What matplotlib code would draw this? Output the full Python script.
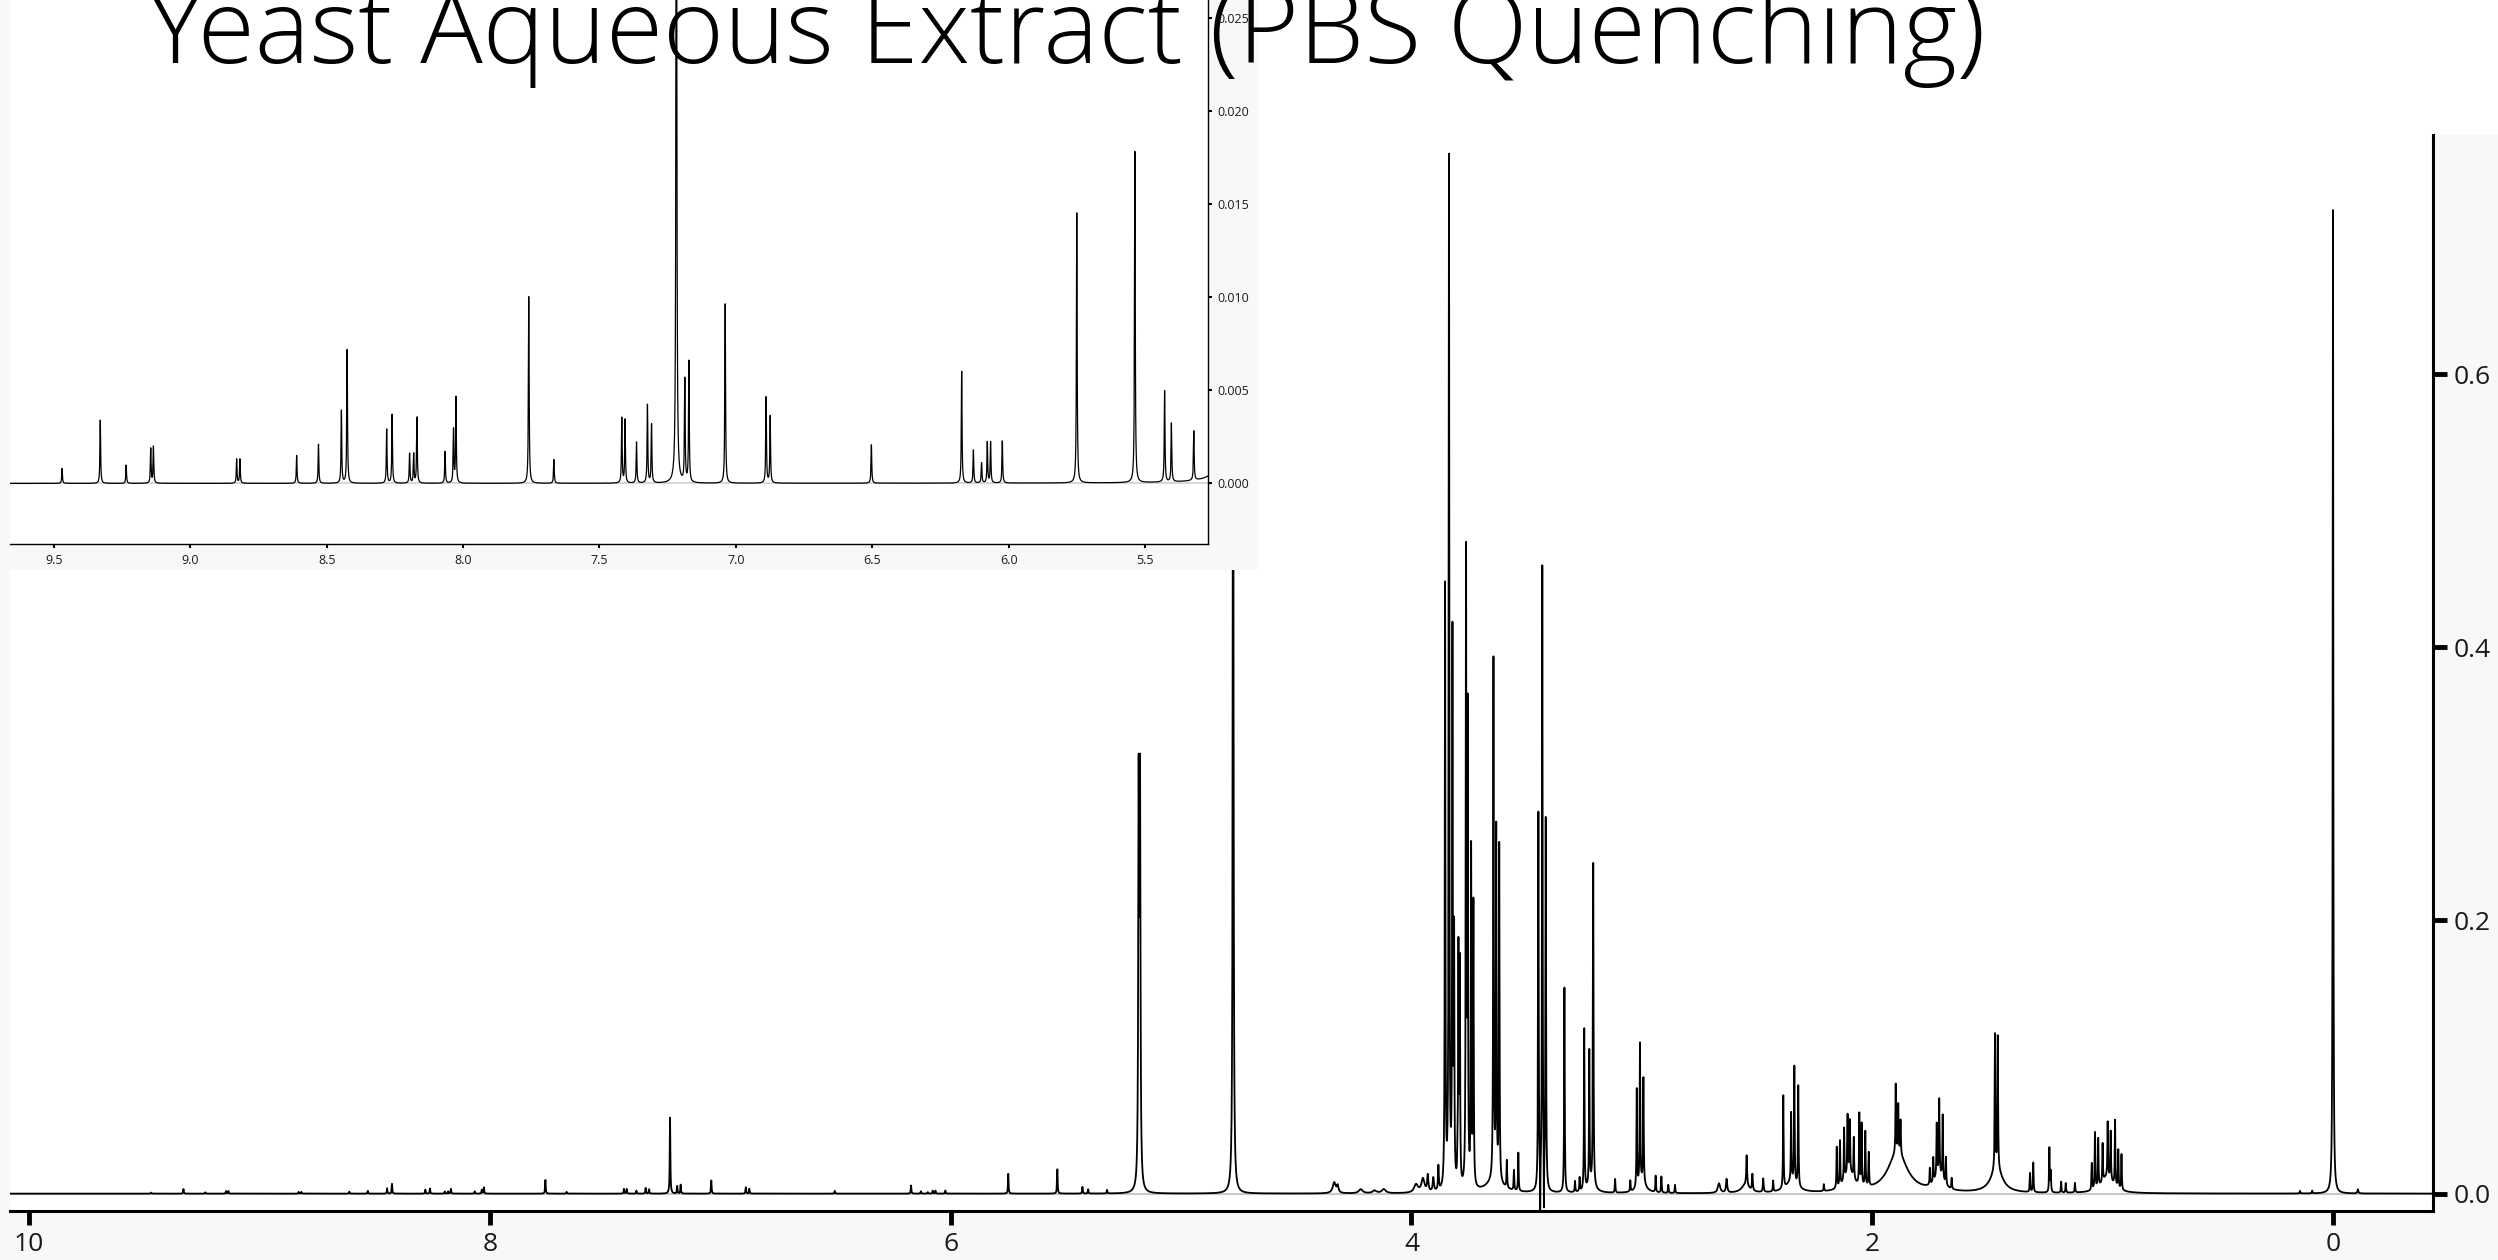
import numpy as np
import matplotlib.pyplot as plt
from matplotlib.patches import Rectangle

plt.rcParams['font.family'] = ['Open Sans', 'DejaVu Sans']

title = "Yeast Aqueous Extract (PBS Quenching)"

# peaks: shift (ppm), height, half width (ppm)
peak_ppm = [
    9.470, 9.330, 9.235, 9.145, 9.135, 8.830, 8.818, 8.610, 8.530, 8.446,
    8.425, 8.280, 8.260, 8.196, 8.181, 8.169, 8.066, 8.035, 8.026, 7.759,
    7.667, 7.418, 7.406, 7.364, 7.324, 7.309, 7.218, 7.187, 7.172, 7.039,
    6.889, 6.874, 6.503, 6.172, 6.129, 6.099, 6.078, 6.066, 6.023, 5.750,
    5.537, 5.428, 5.403, 5.321,
    5.184, 5.178, 4.774,
    4.335, 4.320, 4.220, 4.160, 4.120, 3.980, 3.950, 3.929, 3.905, 3.883,
    3.854, 3.837, 3.822, 3.815, 3.796, 3.790, 3.763, 3.756, 3.741, 3.731,
    3.644, 3.632, 3.619, 3.586, 3.555, 3.536, 3.449, 3.441, 3.432, 3.425,
    3.417, 3.336, 3.290, 3.270, 3.250, 3.228, 3.211, 3.116, 3.050, 3.022,
    3.008, 2.993, 2.940, 2.915, 2.885, 2.856,
    2.665, 2.632, 2.545, 2.520, 2.473, 2.430, 2.386, 2.352, 2.338, 2.321,
    2.210, 2.154, 2.140, 2.122, 2.107, 2.097, 2.080, 2.056, 2.046, 2.030,
    2.015, 1.898, 1.887, 1.877, 1.750, 1.735, 1.720, 1.709, 1.694, 1.680,
    1.655, 1.467, 1.455, 1.315, 1.301, 1.231, 1.225, 1.180, 1.160, 1.120,
    1.047, 1.033, 1.019, 1.000, 0.978, 0.965, 0.946, 0.932, 0.918,
    0.143, 0.090, 0.000, -0.108,
    # broad humps under the multiplets
    3.800, 3.640, 3.220, 3.000, 2.550, 2.350, 2.100, 1.890, 1.710, 1.460,
    0.980,
]
peak_height = [
    0.0008, 0.0034, 0.0010, 0.0019, 0.0020, 0.0013, 0.0013, 0.0015, 0.0021, 0.0039,
    0.0073, 0.0029, 0.0037, 0.0016, 0.0016, 0.0036, 0.0017, 0.0029, 0.0046, 0.0102,
    0.0013, 0.0035, 0.0034, 0.0022, 0.0042, 0.0032, 0.0556, 0.0056, 0.0065, 0.0098,
    0.0047, 0.0036, 0.0021, 0.0060, 0.0018, 0.0011, 0.0022, 0.0022, 0.0023, 0.0145,
    0.0181, 0.0049, 0.0032, 0.0027,
    0.288, 0.288, 0.700,
    0.008, 0.005, 0.003, 0.002, 0.003, 0.006, 0.010, 0.012, 0.010, 0.018,
    0.440, 0.765, 0.400, 0.180, 0.170, 0.160, 0.465, 0.340, 0.250, 0.210,
    0.380, 0.255, 0.250, 0.020, 0.015, 0.028, 0.280, -0.045, 0.455, -0.045,
    0.275, 0.150, 0.008, 0.010, 0.118, 0.098, 0.240, 0.010, 0.008, 0.072,
    0.102, 0.078, 0.012, 0.012, 0.006, 0.006,
    0.007, 0.010, 0.022, 0.012, 0.010, 0.008, 0.068, 0.050, 0.085, 0.075,
    0.005, 0.030, 0.033, 0.038, 0.043, 0.038, 0.030, 0.052, 0.045, 0.040,
    0.025, 0.050, 0.035, 0.025, 0.012, 0.018, 0.038, 0.055, 0.047, 0.020,
    0.008, 0.100, 0.098, 0.014, 0.022, 0.033, 0.015, 0.008, 0.007, 0.007,
    0.020, 0.042, 0.036, 0.028, 0.040, 0.036, 0.048, 0.028, 0.026,
    0.002, 0.002, 0.720, 0.003,
    0.018, 0.008, 0.006, 0.008, 0.006, 0.008, 0.014, 0.030, 0.012, 0.018,
    0.012,
]
peak_hwhm = [0.0015] * 44 + [0.0022, 0.0022, 0.002] + [
    0.008, 0.004, 0.010, 0.010, 0.010, 0.010, 0.008, 0.003, 0.003, 0.002,
] + [0.0015] * 16 + [0.0015, 0.0006, 0.0015, 0.0006] + [0.0015] * 15 + [
    0.0015, 0.006, 0.003, 0.002, 0.002, 0.002, 0.0015, 0.0015, 0.0015, 0.0015,
] + [0.0015] * 41 + [0.0015, 0.0015, 0.0025, 0.0015] + [
    0.045, 0.020, 0.020, 0.020, 0.030, 0.025, 0.050, 0.022, 0.030, 0.030,
    0.050,
]

main_xticks = [10, 8, 6, 4, 2, 0]
main_yticks = [0.0, 0.2, 0.4, 0.6]
inset_xticks = [9.5, 9.0, 8.5, 8.0, 7.5, 7.0, 6.5, 6.0, 5.5]
inset_yticks = [0.000, 0.005, 0.010, 0.015, 0.020, 0.025]

ppm = np.arange(-0.45, 10.1, 0.0004)
spec = np.zeros_like(ppm)
for c, h, w in zip(peak_ppm, peak_height, peak_hwhm):
    spec += h * w**2 / ((ppm - c)**2 + w**2)

W, H = 2498, 1260
fig = plt.figure(figsize=(W / 100, H / 100), dpi=100, facecolor='white')

# grey backdrop of the pasted chart images
fig.patches.append(Rectangle((0, 0), 1, 1 - 135 / H, transform=fig.transFigure,
                             facecolor='#f8f8f8', edgecolor='none', zorder=-1))
fig.patches.append(Rectangle((0, 1 - 570 / H), 1258 / W, 570 / H, transform=fig.transFigure,
                             facecolor='#f8f8f8', edgecolor='none', zorder=1))

# main spectrum
ax = fig.add_axes([10 / W, 1 - 1211 / H, (2433 - 10) / W, (1211 - 135) / H], zorder=0)
ax.set_facecolor('white')
ax.axhline(0, color='#c8c8c8', lw=1.5, zorder=1)
ax.plot(ppm, spec, color='black', lw=1.3, zorder=2)
ax.set_xlim(10.083, -0.434)
ax.set_ylim(-0.0127, 0.775)
for s in ['left', 'top']:
    ax.spines[s].set_visible(False)
for s in ['bottom', 'right']:
    ax.spines[s].set_linewidth(2.2)
ax.yaxis.tick_right()
ax.set_xticks(main_xticks)
ax.set_xticklabels([str(t) for t in main_xticks])
ax.set_yticks(main_yticks)
ax.set_yticklabels([f"{t:.1f}" for t in main_yticks])
ax.tick_params(axis='both', direction='out', length=10, width=3.5, labelsize=19,
               labelcolor='#1a1a1a', pad=5)

# zoomed inset of the aromatic region
ins = fig.add_axes([10 / W, 1 - 544 / H, (1208 - 10) / W, 544 / H], zorder=2)
ins.set_facecolor('white')
ins.axhline(0, color='#d0d0d0', lw=1.2, zorder=1)
ins.plot(ppm, spec, color='black', lw=0.9, zorder=2)
ins.set_xlim(9.661, 5.269)
ins.set_ylim(-0.00325, 0.02596)
for s in ['left', 'top']:
    ins.spines[s].set_visible(False)
for s in ['bottom', 'right']:
    ins.spines[s].set_linewidth(1.0)
ins.yaxis.tick_right()
ins.set_xticks(inset_xticks)
ins.set_xticklabels([f"{t:.1f}" for t in inset_xticks])
ins.set_yticks(inset_yticks)
ins.set_yticklabels([f"{t:.3f}" for t in inset_yticks])
ins.tick_params(axis='both', direction='out', length=3, width=1.5, labelsize=9,
                labelcolor='#1a1a1a', pad=4)

# slide title, scaled to the width it has on the slide
t = fig.text(148 / W, 1 - 63 / H, title, fontsize=90, fontweight='light',
             va='baseline', ha='left', color='black', zorder=5)
fig.canvas.draw()
w = t.get_window_extent().width
t.set_fontsize(90 * (1988 - 148) / w)

fig.savefig('out.png', dpi=100, facecolor='white')
